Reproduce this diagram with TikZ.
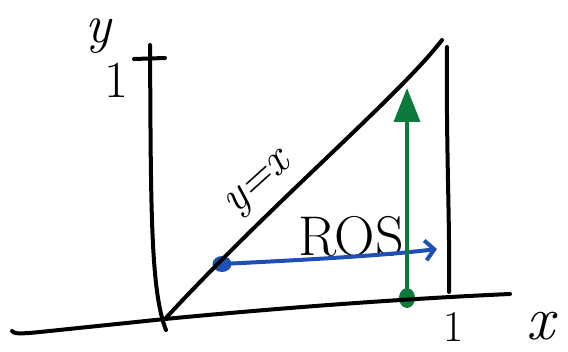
\documentclass[tikz,border=0pt]{standalone}
\usepackage{xcolor}
\usepackage{tikz}
\usetikzlibrary{positioning, calc}
\usetikzlibrary{arrows.meta, shapes.geometric}

\definecolor{sketchblue}{HTML}{1F4FB5}
\definecolor{sketchgreen}{HTML}{0C7A3C}

\begin{document}
\begin{tikzpicture}[x=1pt,y=-1pt, line cap=round, line join=round,
  stroke/.style={draw=black, line width=4pt},
  dot/.style={ellipse, fill, inner sep=0pt},
  hand/.style={inner sep=0pt, font=\fontsize{#1}{#1}\selectfont},
  hand/.default=50]

\useasboundingbox (0,0) rectangle (568,352);

% Define nodes
\coordinate (o) at (165,319);
\coordinate (xl) at (12,331);
\coordinate (xr) at (510,294);
\coordinate (yt) at (150,45);
\coordinate (yb) at (166,330);
\coordinate (dt) at (442,40);
\coordinate (rt) at (447,47);
\coordinate (rb) at (449,292);
\node[dot, fill=sketchblue, minimum width=19pt, minimum height=16pt] (p) at (222,264) {};
\node[dot, fill=sketchgreen, minimum width=16pt, minimum height=20pt] (q) at (407,298) {};
\coordinate (pe) at (437,249);
\coordinate (qe) at (407,88);
\coordinate (t0) at (134,59);
\coordinate (t1) at (165,58);

% Labels
\node[hand=54] (ylab) at (98,36) {\itshape y};
\node[hand=52] (one) at (116,80) {1};
\node[hand=56] (ros) at (351,236) {ROS};
\node[hand=46, rotate=42] (diag) at (260,186) {\itshape y=x};
\node[hand=44] (onex) at (454,327) {1};
\node[hand=62] (xlab) at (540,326) {\itshape x};

% Axes
\draw[stroke] (xl) .. controls (14,334) and (20,334) .. (40,332)
  -- (o) .. controls (300,306) and (420,298) .. (xr);
\draw[stroke] (yt) .. controls (151,200) and (150,290) .. (yb);
\draw[stroke] (t0) -- (t1);
\draw[stroke] (o) .. controls (270,205) and (400,95) .. (dt);
\draw[stroke] (rt) .. controls (446,150) and (450,220) .. (rb);

% Arrows
\draw[draw=sketchblue, line width=4pt, -{Straight Barb[length=9pt, width=20pt]}]
  (p) .. controls (300,260) and (380,256) .. (pe);
\draw[draw=sketchgreen, line width=3.6pt, -{Triangle[length=34pt, width=26pt]}]
  (q) -- (qe);
\end{tikzpicture}
\end{document}
